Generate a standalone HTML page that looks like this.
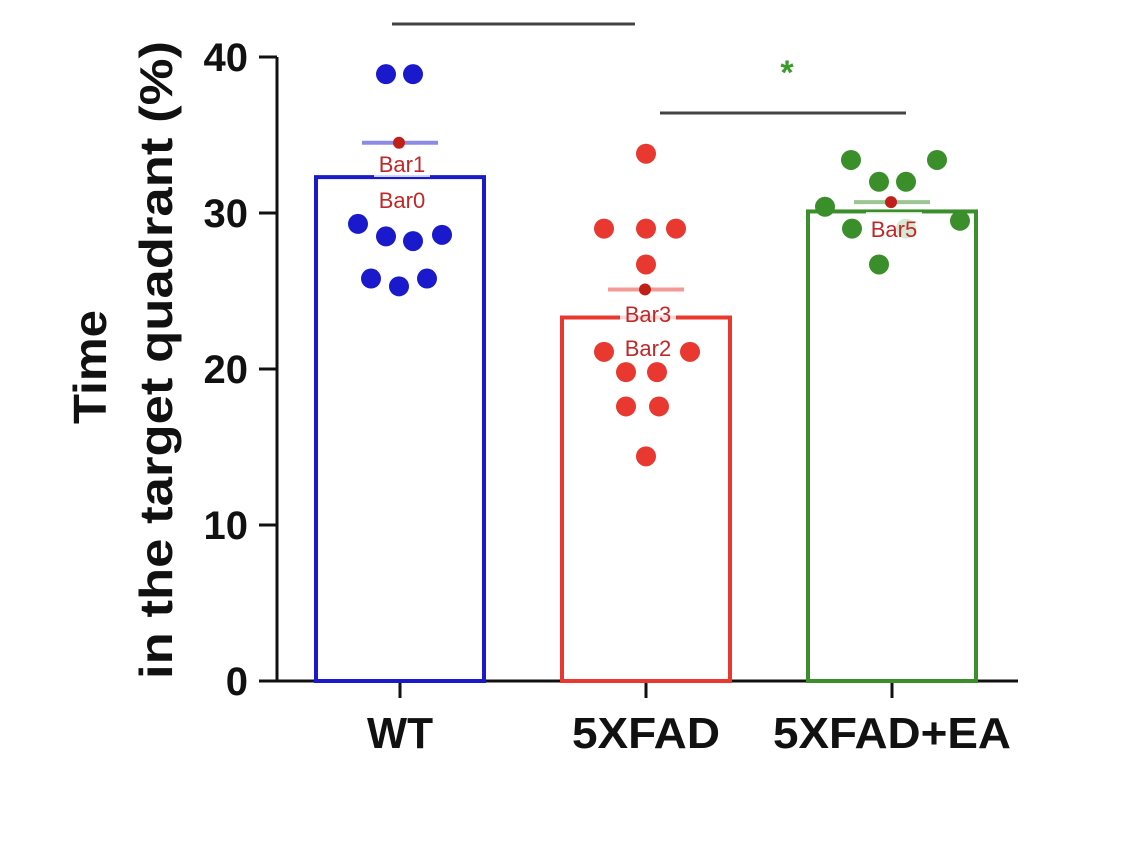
<!DOCTYPE html>
<html><head><meta charset="utf-8"><style>
html,body{margin:0;padding:0;background:#fff;}
svg{display:block;font-family:"Liberation Sans",Arial,sans-serif;}
</style></head><body>
<svg id="chart" width="1128" height="852" viewBox="0 0 1128 852" xmlns="http://www.w3.org/2000/svg">
<g id="axes"></g>
<g id="marks"></g>
<text transform="translate(106,367) rotate(-90)" text-anchor="middle" font-size="46" font-weight="bold" fill="#111" textLength="114" lengthAdjust="spacingAndGlyphs">Time</text>
<text transform="translate(172,360) rotate(-90)" text-anchor="middle" font-size="46" font-weight="bold" fill="#111" textLength="638" lengthAdjust="spacingAndGlyphs">in the target quadrant (%)</text>
</svg>
<script>
const categories = ["WT", "5XFAD", "5XFAD+EA"];
const means = [32.3, 23.3, 30.1];
const semTop = [34.5, 25.1, 30.7];
const yTicks = [0, 10, 20, 30, 40];
const wtPoints = [38.9, 38.9, 29.3, 28.5, 28.2, 28.6, 25.8, 25.3, 25.8];
const fadPoints = [33.8, 29.0, 29.0, 29.0, 26.7, 21.1, 21.1, 19.8, 19.8, 17.6, 17.6, 14.4];
const eaPoints = [33.4, 33.4, 32.0, 32.0, 30.4, 29.0, 29.5, 26.7, 29.0];
const wtOffsets = [-14, 13, -42, -14, 13, 42, -29, -1, 27];
const fadOffsets = [0, -42, 0, 30, 0, -42, 44, -20, 11, -20, 13, 0];
const eaOffsets = [-41, 45, -13, 14, -67, -40, 68, -13, 14];

const NS = "http://www.w3.org/2000/svg";
const y0 = 681, yTop = 57;
function yScale(v){ return y0 - (v/40)*(y0-yTop); }
const centers = [400, 646, 892];
const barW = 168;
const colors = ["#1a1acc", "#e8382f", "#3a8f2a"];
function mk(tag, attrs, parent){ const e=document.createElementNS(NS,tag); for(const k in attrs) e.setAttribute(k,attrs[k]); parent.appendChild(e); return e; }
const axes=document.getElementById('axes'), marks=document.getElementById('marks');

let ya=mk('line',{x1:277,y1:yScale(40),x2:277,y2:y0+1,stroke:'#111','stroke-width':3},axes);


let xa=mk('line',{x1:276,y1:y0,x2:1018,y2:y0,stroke:'#111','stroke-width':3},axes);


yTicks.forEach(t=>{
  const y=yScale(t);
  let tk=mk('line',{x1:259,y1:y,x2:277,y2:y,stroke:'#111','stroke-width':3},axes);
  
  
  let tl=mk('text',{x:248,y:y+14,'text-anchor':'end','font-size':40,'font-weight':'bold',fill:'#111'},axes);
  tl.textContent=t;
  
  
});
categories.forEach((c,i)=>{
  let tk=mk('line',{x1:centers[i],y1:y0,x2:centers[i],y2:y0+17,stroke:'#111','stroke-width':3},axes);
  
  
  let tl=mk('text',{x:centers[i],y:748,'text-anchor':'middle','font-size':44,'font-weight':'bold',fill:'#111',textLength:i==2?238:(i==1?148:66),lengthAdjust:'spacingAndGlyphs'},axes);
  tl.textContent=c;
  
  
});
const pts=[wtPoints,fadPoints,eaPoints], offs=[wtOffsets,fadOffsets,eaOffsets];
categories.forEach((c,i)=>{
  const x=centers[i]-barW/2, yt=yScale(means[i]);
  let b=mk('rect',{x:x,y:yt,width:barW,height:y0-yt,fill:'none',stroke:colors[i],'stroke-width':4},marks);
  
  
  let e=mk('line',{x1:centers[i]-38,y1:yScale(semTop[i]),x2:centers[i]+38,y2:yScale(semTop[i]),stroke:colors[i],'stroke-width':4,opacity:0.5},marks);
  
  
  pts[i].forEach((v,j)=>{
    let d=mk('circle',{cx:centers[i]+offs[i][j],cy:yScale(v),r:10,fill:colors[i]},marks);
    
    
  });
});
[[0,"Bar1",172],[0,"Bar0",208],[1,"Bar3",322],[1,"Bar2",356],[2,"Bar5",237]].forEach(a=>{
  const cx=centers[a[0]];
  let r=mk('rect',{x:cx-26,y:a[2]-25,width:56,height:30,fill:'#fff',opacity:0.8},marks);
  
  
  let t=mk('text',{x:cx+2,y:a[2],'text-anchor':'middle','font-size':22,fill:'#c0282a'},marks);
  t.textContent=a[1];
  
  
});
[0,1,2].forEach(i=>{
  let d=mk('circle',{cx:centers[i]-1,cy:yScale(semTop[i]),r:6,fill:'#c0201a'},marks);
  
  
});
let s1=mk('line',{x1:392,y1:24,x2:635,y2:24,stroke:'#444','stroke-width':3},marks);


let s2=mk('line',{x1:660,y1:113,x2:906,y2:113,stroke:'#444','stroke-width':3},marks);


let st=mk('text',{x:787,y:84,'text-anchor':'middle','font-size':34,'font-weight':'bold',fill:'#3a9a2a'},marks);
st.textContent='*';


</script>
</body></html>
